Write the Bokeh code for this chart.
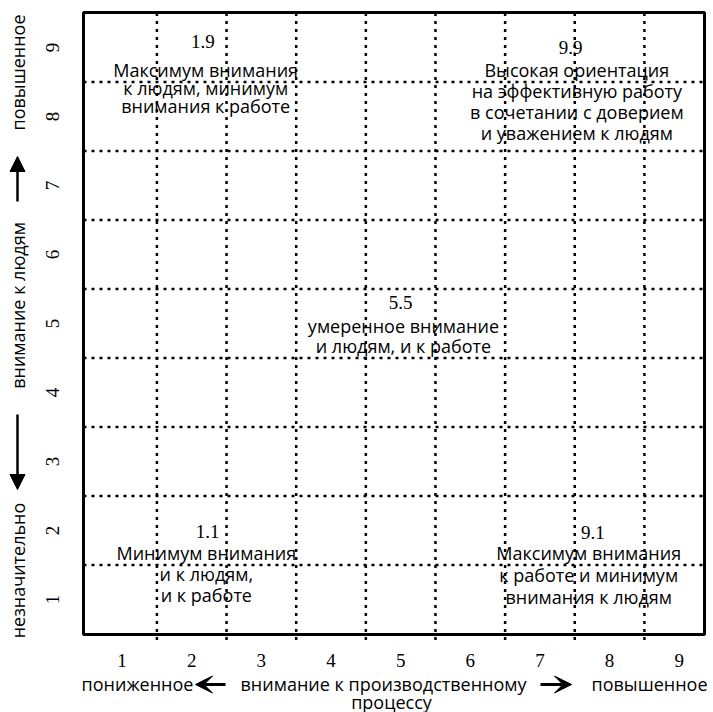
import numpy as np
from bokeh.plotting import figure
from bokeh.models import Range1d, Arrow, VeeHead, NormalHead, ColumnDataSource
from bokeh.embed import file_html
from bokeh.resources import INLINE
from bokeh.core.properties import value

# ---------------- data ----------------
x_ticks = [1, 2, 3, 4, 5, 6, 7, 8, 9]
y_ticks = [1, 2, 3, 4, 5, 6, 7, 8, 9]
x_tick_labels = ["1", "2", "3", "4", "5", "6", "7", "8", "9"]
y_tick_labels = ["1", "2", "3", "4", "5", "6", "7", "8", "9"]
grid_lines = [1.5, 2.5, 3.5, 4.5, 5.5, 6.5, 7.5, 8.5]

styles = ["1.9", "9.9", "5.5", "1.1", "9.1"]
descriptions = [
    ["Максимум внимания", "к людям, минимум", "внимания к работе"],
    ["Высокая ориентация", "на эффективную работу", "в сочетании с доверием", "и уважением к людям"],
    ["умеренное внимание", "и людям, и к работе"],
    ["Минимум внимания", "и к людям,", "и к работе"],
    ["Максимум внимания", "к работе и минимум", "внимания к людям"],
]
x_title = ["пониженное", "внимание к производственному", "повышенное", "процессу"]
y_title = ["незначительно", "внимание к людям", "повышенное"]

# annotation anchors (grid units)
code_x = [2.16, 7.44, 5.00, 2.23, 7.76]
code_y = [9.08, 9.00, 5.30, 1.99, 1.97]
desc_x = [2.20, 7.53, 5.04, 2.21, 7.70]
desc_y = [8.67, 8.67, 4.97, 1.68, 1.67]
desc_gap = [18, 21, 20, 21, 22]

# ---------------- layout ----------------
X0, X1 = 0.446, 9.363          # grid extent (left/right frame)
Y0, Y1 = 0.493, 9.507          # grid extent (bottom/top frame)
FL, FR, FT, FB = 83, 704, 12, 634  # frame edges in canvas pixels
W, H = 712, 712


def px(xp):
    return X0 + (xp - FL) * (X1 - X0) / (FR - FL)


def py(yp):
    return Y0 + (FB - yp) * (Y1 - Y0) / (FB - FT)


p = figure(width=W, height=H, x_range=Range1d(px(0), px(W)), y_range=Range1d(py(H), py(0)),
           output_backend="svg", toolbar_location=None, min_border=0)
p.axis.visible = False
p.grid.visible = False
p.outline_line_color = None
p.background_fill_color = "white"
p.border_fill_color = "white"

dash = "3 5"
n = len(grid_lines)
# vertical dotted lines
p.segment(x0=grid_lines, y0=[Y0 - 0.08] * n, x1=grid_lines, y1=[Y1] * n,
          line_color="black", line_width=2.5, line_dash=dash)
# horizontal dotted lines
p.segment(x0=[X0] * n, y0=grid_lines, x1=[X1] * n, y1=grid_lines,
          line_color="black", line_width=2.5, line_dash=dash)
# frame
p.quad(left=[X0], right=[X1], bottom=[Y0], top=[Y1], fill_alpha=0,
       line_color="black", line_width=3)

serif = value("Liberation Serif")
sans = value("Open Sans")

# tick labels
p.text(x=x_ticks, y=[py(660)] * len(x_ticks), text=x_tick_labels, text_font=serif,
       text_font_size="19px", text_align="center", text_baseline="middle", text_color="black")
p.text(x=[px(52)] * len(y_ticks), y=y_ticks, text=y_tick_labels, text_font=serif,
       text_font_size="19px", text_align="center", text_baseline="middle", text_color="black",
       angle=np.pi / 2)

# style codes
p.text(x=code_x, y=code_y, text=styles, text_font=serif,
       text_font_size="19px", text_align="center", text_baseline="middle", text_color="black")

# descriptions
rows = dict(x=[], y=[], text=[], dy=[])
for i, lines in enumerate(descriptions):
    for j, t in enumerate(lines):
        rows["x"].append(desc_x[i])
        rows["y"].append(desc_y[i])
        rows["text"].append(t)
        rows["dy"].append(j * desc_gap[i])
src = ColumnDataSource(rows)
p.text(x="x", y="y", text="text", y_offset="dy", source=src, text_font=sans,
       text_font_size="18px", text_align="center", text_baseline="middle", text_color="black")

# x axis title pieces
fs = "18px"
p.text(x=[px(137), px(383), px(649), px(391)], y=[py(683), py(683), py(683), py(701)],
       text=x_title, text_font=sans, text_font_size=fs, text_align="center",
       text_baseline="middle", text_color="black")
p.add_layout(Arrow(end=VeeHead(size=17, fill_color="black", line_color="black", line_width=1),
                   x_start=px(225), y_start=py(684), x_end=px(195), y_end=py(684),
                   line_width=3, line_color="black"))
p.add_layout(Arrow(end=VeeHead(size=17, fill_color="black", line_color="black", line_width=1),
                   x_start=px(540), y_start=py(684), x_end=px(571), y_end=py(684),
                   line_width=3, line_color="black"))

# y axis title pieces
p.text(x=[px(17)] * 3, y=[py(570), py(305), py(72)], text=y_title, text_font=sans,
       text_font_size=fs, text_align="center", text_baseline="middle", text_color="black",
       angle=np.pi / 2)
p.add_layout(Arrow(end=NormalHead(size=15, fill_color="black", line_color="black"),
                   x_start=px(17), y_start=py(414), x_end=px(17), y_end=py(489),
                   line_width=2.5, line_color="black"))
p.add_layout(Arrow(end=NormalHead(size=15, fill_color="black", line_color="black"),
                   x_start=px(17), y_start=py(201), x_end=px(17), y_end=py(156),
                   line_width=2.5, line_color="black"))

open("out.html", "w").write(file_html(p, INLINE))
